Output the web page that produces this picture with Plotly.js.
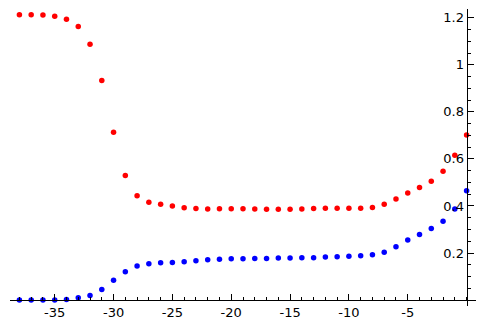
<!DOCTYPE html>
<html>
<head>
<meta charset="utf-8">
<script src="https://cdn.plot.ly/plotly-3.0.1.min.js"></script>
<style>html,body{margin:0;padding:0;background:#fff;}#chart{width:484px;height:326px;}</style>
</head>
<body>
<div id="chart"></div>
<script>
const xValues = [-38,-37,-36,-35,-34,-33,-32,-31,-30,-29,-28,-27,-26,-25,-24,-23,-22,-21,-20,-19,-18,-17,-16,-15,-14,-13,-12,-11,-10,-9,-8,-7,-6,-5,-4,-3,-2,-1,0];
const redValues = [1.213,1.213,1.211,1.206,1.193,1.163,1.087,0.933,0.713,0.529,0.443,0.416,0.407,0.400,0.393,0.389,0.387,0.388,0.388,0.388,0.387,0.386,0.386,0.386,0.387,0.389,0.390,0.390,0.390,0.390,0.394,0.407,0.430,0.455,0.478,0.505,0.548,0.616,0.702];
const blueValues = [0.000,0.000,0.000,0.001,0.003,0.010,0.020,0.045,0.084,0.121,0.145,0.155,0.159,0.160,0.163,0.167,0.172,0.174,0.176,0.176,0.177,0.177,0.179,0.179,0.180,0.180,0.183,0.184,0.186,0.189,0.193,0.203,0.227,0.255,0.279,0.304,0.335,0.387,0.465];
const xTickVals = [-35,-30,-25,-20,-15,-10,-5];
const xTickText = ['-35','-30','-25','-20','-15','-10','-5'];
const yTickVals = [0.2,0.4,0.6,0.8,1.0,1.2];
const yTickText = ['0.2','0.4','0.6','0.8','1','1.2'];

const xRange = [-38.8, 0.8];
const yRange = [-0.025, 1.237];

const traces = [
  {x: xValues, y: redValues, mode: 'markers', type: 'scatter', cliponaxis: false,
   marker: {color: '#ff0000', size: 5.5}, hoverinfo: 'skip'},
  {x: xValues, y: blueValues, mode: 'markers', type: 'scatter', cliponaxis: false,
   marker: {color: '#0000ff', size: 5.5}, hoverinfo: 'skip'}
];

const font = {family: 'DejaVu Sans', size: 13, color: '#000'};
const layout = {
  width: 484, height: 326,
  margin: {l: 10, r: 8, t: 9, b: 20, pad: 0},
  paper_bgcolor: '#fff', plot_bgcolor: '#fff',
  showlegend: false,
  font: font,
  xaxis: {
    range: xRange, showgrid: false, zeroline: false,
    showline: true, linecolor: '#000', linewidth: 1,
    anchor: 'free', position: (0 - yRange[0]) / (yRange[1] - yRange[0]),
    tickmode: 'array', tickvals: xTickVals, ticktext: xTickText,
    ticks: 'inside', ticklen: 6, tickcolor: '#000', tickwidth: 1,
    tickfont: font,
    minor: {tickmode: 'linear', tick0: 0, dtick: 1, ticks: 'inside', ticklen: 3.5, tickcolor: '#000', tickwidth: 1, showgrid: false}
  },
  yaxis: {
    range: yRange, showgrid: false, zeroline: false,
    showline: true, linecolor: '#000', linewidth: 1,
    anchor: 'free', side: 'left', position: (0 - xRange[0]) / (xRange[1] - xRange[0]),
    tickmode: 'array', tickvals: yTickVals, ticktext: yTickText,
    ticks: 'inside', ticklen: 6, tickcolor: '#000', tickwidth: 1,
    tickfont: font,
    minor: {tickmode: 'linear', tick0: 0, dtick: 0.05, ticks: 'inside', ticklen: 3.5, tickcolor: '#000', tickwidth: 1, showgrid: false}
  }
};

Plotly.newPlot('chart', traces, layout, {staticPlot: true, displayModeBar: false});
</script>
</body>
</html>
